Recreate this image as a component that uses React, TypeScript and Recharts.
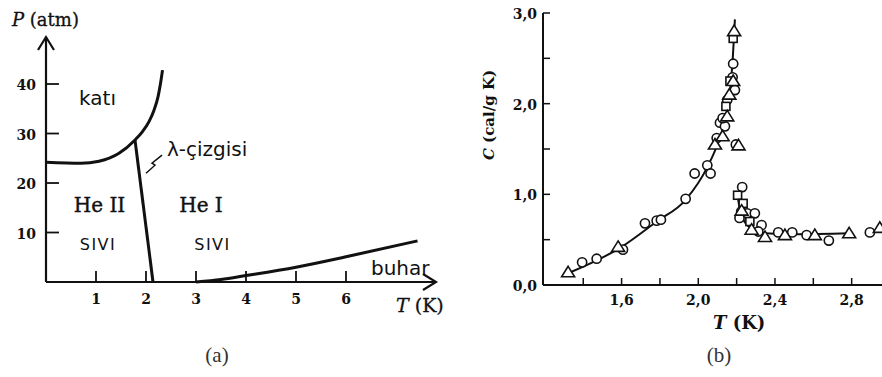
import React from 'react';
import { ComposedChart, Line, Scatter, XAxis, YAxis, ReferenceLine, ReferenceDot } from 'recharts';

// (a) helium-4 phase diagram, T in K, P in atm
const meltCurve = [
  { t: 0, p: 24.2 }, { t: 0.7, p: 24.0 }, { t: 1.06, p: 24.4 }, { t: 1.46, p: 26.0 },
  { t: 1.78, p: 28.7 }, { t: 1.93, p: 30.4 }, { t: 2.06, p: 32.4 }, { t: 2.16, p: 34.7 },
  { t: 2.24, p: 37.4 }, { t: 2.29, p: 40.1 }, { t: 2.33, p: 42.8 },
];
const lambdaLine = [{ t: 1.78, p: 28.7 }, { t: 2.14, p: 0 }];
const vaporCurve = [
  { t: 3.0, p: 0 }, { t: 3.5, p: 0.5 }, { t: 4.0, p: 1.3 }, { t: 5.0, p: 3.0 },
  { t: 6.0, p: 5.1 }, { t: 7.43, p: 8.3 },
];
const phaseTicksT = [1, 2, 3, 4, 5, 6];
const phaseTicksP = [10, 20, 30, 40];
const regionLabels = [
  { t: 1.03, p: 35.8, text: 'katı', font: 'sans', anchor: 'middle' },
  { t: 1.07, p: 14.2, text: 'He II', font: 'serif', anchor: 'middle' },
  { t: 1.04, p: 6.5, text: 'SIVI', font: 'small', anchor: 'middle' },
  { t: 3.1, p: 14.2, text: 'He I', font: 'serif', anchor: 'middle' },
  { t: 3.33, p: 6.5, text: 'SIVI', font: 'small', anchor: 'middle' },
  { t: 2.42, p: 25.5, text: 'λ-çizgisi', font: 'sans', anchor: 'start' },
  { t: 6.5, p: 1.4, text: 'buhar', font: 'sans', anchor: 'start' },
];

// (b) specific heat of liquid helium near the lambda point
const fitBelow = [
  { t: 1.321, c: 0.13 }, { t: 1.6, c: 0.42 }, { t: 1.783, c: 0.7 }, { t: 1.934, c: 0.94 },
  { t: 2.047, c: 1.3 }, { t: 2.108, c: 1.6 }, { t: 2.151, c: 1.93 }, { t: 2.177, c: 2.41 },
  { t: 2.191, c: 2.93 },
];
const fitAbove = [
  { t: 2.205, c: 0.99 }, { t: 2.22, c: 0.8 }, { t: 2.255, c: 0.66 }, { t: 2.3, c: 0.6 },
  { t: 2.35, c: 0.57 }, { t: 2.5, c: 0.56 }, { t: 2.79, c: 0.57 },
];
const circlePts = [
  { t: 1.394, c: 0.25 }, { t: 1.47, c: 0.29 }, { t: 1.607, c: 0.39 }, { t: 1.722, c: 0.68 },
  { t: 1.783, c: 0.71 }, { t: 1.805, c: 0.72 }, { t: 1.934, c: 0.95 }, { t: 1.981, c: 1.23 },
  { t: 2.047, c: 1.32 }, { t: 2.064, c: 1.23 }, { t: 2.096, c: 1.62 }, { t: 2.113, c: 1.79 },
  { t: 2.139, c: 1.75 }, { t: 2.127, c: 1.84 }, { t: 2.151, c: 2.04 }, { t: 2.191, c: 2.15 },
  { t: 2.179, c: 2.29 }, { t: 2.182, c: 2.44 }, { t: 2.196, c: 1.55 }, { t: 2.229, c: 1.08 },
  { t: 2.224, c: 0.81 }, { t: 2.215, c: 0.74 }, { t: 2.255, c: 0.79 }, { t: 2.295, c: 0.79 },
  { t: 2.33, c: 0.66 }, { t: 2.313, c: 0.59 }, { t: 2.417, c: 0.58 }, { t: 2.49, c: 0.58 },
  { t: 2.565, c: 0.55 }, { t: 2.681, c: 0.49 }, { t: 2.895, c: 0.58 },
];
const squarePts = [
  { t: 2.144, c: 1.97 }, { t: 2.165, c: 2.25 }, { t: 2.182, c: 2.72 }, { t: 2.205, c: 0.99 },
  { t: 2.234, c: 0.9 }, { t: 2.269, c: 0.7 },
];
const trianglePts = [
  { t: 1.321, c: 0.14 }, { t: 1.582, c: 0.42 }, { t: 2.087, c: 1.55 }, { t: 2.127, c: 1.64 },
  { t: 2.151, c: 1.86 }, { t: 2.162, c: 2.1 }, { t: 2.182, c: 2.25 }, { t: 2.187, c: 2.8 },
  { t: 2.21, c: 1.54 }, { t: 2.226, c: 0.82 }, { t: 2.278, c: 0.61 }, { t: 2.348, c: 0.53 },
  { t: 2.452, c: 0.55 }, { t: 2.608, c: 0.55 }, { t: 2.787, c: 0.57 }, { t: 2.947, c: 0.63 },
];
const heatTicksT = [1.4, 1.6, 1.8, 2.0, 2.2, 2.4, 2.6, 2.8];
const heatLabelsT = [1.6, 2.0, 2.4, 2.8];
const heatTicksC = [0, 0.5, 1, 1.5, 2, 2.5, 3];
const heatLabelsC = [0, 1, 2, 3];

const ink = '#111';
const serif = '"DejaVu Serif", serif';
const sans = '"DejaVu Sans", sans-serif';
const comma = (v: number, d: number) => v.toFixed(d).replace('.', ',');

function ArrowAxis(props: any) {
  const { x1, y1, x2, y2 } = props;
  const len = Math.hypot(x2 - x1, y2 - y1) || 1;
  const dx = (x2 - x1) / len;
  const dy = (y2 - y1) / len;
  const bx = x2 - dx * 13;
  const by = y2 - dy * 13;
  return (
    <g stroke={ink} strokeWidth={2.2} fill="none">
      <line x1={x1} y1={y1} x2={x2} y2={y2} />
      <polyline points={`${bx - dy * 8},${by + dx * 8} ${x2},${y2} ${bx + dy * 8},${by - dx * 8}`} />
    </g>
  );
}

function PhaseTickX({ x, y, payload }: any) {
  return (
    <g>
      <line x1={x} y1={y} x2={x} y2={y - 11} stroke={ink} strokeWidth={1.8} />
      <text x={x} y={y + 22} textAnchor="middle" fontFamily={serif} fontWeight="bold" fontSize={14} fill={ink}>
        {payload.value}
      </text>
    </g>
  );
}

function PhaseTickY({ x, y, payload }: any) {
  return (
    <g>
      <line x1={x} y1={y} x2={x + 13} y2={y} stroke={ink} strokeWidth={1.8} />
      <text x={x - 10} y={y + 6} textAnchor="end" fontFamily={serif} fontWeight="bold" fontSize={14} fill={ink}>
        {payload.value}
      </text>
    </g>
  );
}

function HeatTickX({ x, y, payload }: any) {
  const v = payload.value;
  return (
    <g>
      <line x1={x} y1={y} x2={x} y2={y - 7} stroke={ink} strokeWidth={1.5} />
      {heatLabelsT.some((l) => Math.abs(l - v) < 1e-6) && (
        <text x={x} y={y + 20} textAnchor="middle" fontFamily={serif} fontWeight="bold" fontSize={14} fill={ink}>
          {comma(v, 1)}
        </text>
      )}
    </g>
  );
}

function HeatTickY({ x, y, payload }: any) {
  const v = payload.value;
  return (
    <g>
      <line x1={x} y1={y} x2={x + 7} y2={y} stroke={ink} strokeWidth={1.5} />
      {heatLabelsC.includes(v) && (
        <text x={x - 6} y={y + 6} textAnchor="end" fontFamily={serif} fontWeight="bold" fontSize={14} fill={ink}>
          {comma(v, 1)}
        </text>
      )}
    </g>
  );
}

const circleShape = (p: any) => (
  <circle cx={p.cx} cy={p.cy} r={4.6} fill="#fff" stroke={ink} strokeWidth={1.6} />
);
const squareShape = (p: any) => (
  <rect x={p.cx - 4} y={p.cy - 4} width={8} height={8} fill="#fff" stroke={ink} strokeWidth={1.6} />
);
const triangleShape = (p: any) => (
  <path
    d={`M${p.cx},${p.cy - 6} L${p.cx + 6.5},${p.cy + 4.5} L${p.cx - 6.5},${p.cy + 4.5} Z`}
    fill="#fff"
    stroke={ink}
    strokeWidth={1.6}
  />
);

function RegionText({ cx, cy, text, font, anchor }: any) {
  const family = font === 'serif' ? serif : sans;
  const size = font === 'serif' ? 20 : font === 'small' ? 16 : 20;
  return (
    <text
      x={cx}
      y={cy}
      textAnchor={anchor}
      fontFamily={family}
      fontSize={size}
      letterSpacing={font === 'small' ? 1.5 : 0}
      stroke={font === 'serif' ? ink : 'none'}
      strokeWidth={font === 'serif' ? 0.4 : 0}
      fill={ink}
    >
      {text}
    </text>
  );
}

const squiggle = (p: any) => (
  <path
    d={`M${p.cx - 8},${p.cy + 9} L${p.cx + 1},${p.cy + 1} L${p.cx - 2},${p.cy - 1} L${p.cx + 8},${p.cy - 9}`}
    fill="none"
    stroke={ink}
    strokeWidth={1.5}
  />
);

export default function App() {
  return (
    <div
      style={{ position: 'absolute', left: 0, top: 0, width: 882, height: 377, overflow: 'hidden', background: '#fff' }}
    >
      <div style={{ position: 'absolute', left: 0, top: 0 }}>
        <ComposedChart width={440} height={377} margin={{ top: 37, right: 4, bottom: 65, left: 16 }}>
          <XAxis
            type="number"
            dataKey="t"
            domain={[0, 7.8]}
            ticks={phaseTicksT}
            height={30}
            axisLine={false}
            tickLine={false}
            tickSize={0}
            tickMargin={0}
            tick={PhaseTickX}
          />
          <YAxis
            type="number"
            dataKey="p"
            domain={[0, 49.5]}
            ticks={phaseTicksP}
            width={30}
            axisLine={false}
            tickLine={false}
            tickSize={0}
            tickMargin={0}
            tick={PhaseTickY}
          />
          <ReferenceLine segment={[{ x: 0, y: 0 }, { x: 0, y: 49.5 }]} ifOverflow="visible" shape={ArrowAxis} />
          <ReferenceLine segment={[{ x: 0, y: 0 }, { x: 7.8, y: 0 }]} ifOverflow="visible" shape={ArrowAxis} />
          <Line data={meltCurve} dataKey="p" type="monotone" stroke={ink} strokeWidth={3} dot={false} activeDot={false} isAnimationActive={false} />
          <Line data={lambdaLine} dataKey="p" type="linear" stroke={ink} strokeWidth={3} dot={false} activeDot={false} isAnimationActive={false} />
          <Line data={vaporCurve} dataKey="p" type="monotone" stroke={ink} strokeWidth={3} dot={false} activeDot={false} isAnimationActive={false} />
          {regionLabels.map((r, i) => (
            <ReferenceDot
              key={i}
              x={r.t}
              y={r.p}
              ifOverflow="visible"
              shape={(p: any) => <RegionText {...p} text={r.text} font={r.font} anchor={r.anchor} />}
            />
          ))}
          <ReferenceDot x={2.16} y={23.8} ifOverflow="visible" shape={squiggle} />
        </ComposedChart>
      </div>
      <div style={{ position: 'absolute', left: 440, top: 0 }}>
        <ComposedChart width={460} height={377} margin={{ top: 13, right: 10, bottom: 62, left: 63 }}>
          <XAxis
            xAxisId="b"
            type="number"
            dataKey="t"
            domain={[1.19, 3.0]}
            ticks={heatTicksT}
            height={30}
            axisLine={{ stroke: ink, strokeWidth: 2 }}
            tickLine={false}
            tickSize={0}
            tickMargin={0}
            tick={HeatTickX}
          />
          <XAxis
            xAxisId="top"
            orientation="top"
            type="number"
            domain={[1.19, 3.0]}
            height={0}
            tick={false}
            tickLine={false}
            axisLine={{ stroke: ink, strokeWidth: 2 }}
          />
          <YAxis
            type="number"
            dataKey="c"
            domain={[0, 3]}
            ticks={heatTicksC}
            width={40}
            axisLine={{ stroke: ink, strokeWidth: 2 }}
            tickLine={false}
            tickSize={0}
            tickMargin={0}
            tick={HeatTickY}
          />
          <Line xAxisId="b" data={fitBelow} dataKey="c" type="monotone" stroke={ink} strokeWidth={2} dot={false} activeDot={false} isAnimationActive={false} />
          <Line xAxisId="b" data={fitAbove} dataKey="c" type="monotone" stroke={ink} strokeWidth={2} dot={false} activeDot={false} isAnimationActive={false} />
          <Scatter xAxisId="b" data={circlePts} shape={circleShape} isAnimationActive={false} />
          <Scatter xAxisId="b" data={squarePts} shape={squareShape} isAnimationActive={false} />
          <Scatter xAxisId="b" data={trianglePts} shape={triangleShape} isAnimationActive={false} />
        </ComposedChart>
      </div>
      <svg width={882} height={377} style={{ position: 'absolute', left: 0, top: 0, pointerEvents: 'none' }}>
        <text x={12} y={26} fontFamily={serif} fontSize={18} stroke={ink} strokeWidth={0.3} fill={ink}>
          <tspan fontStyle="italic">P</tspan> (atm)
        </text>
        <text x={396} y={312} fontFamily={serif} fontSize={19} stroke={ink} strokeWidth={0.3} fill={ink}>
          <tspan fontStyle="italic">T</tspan> (K)
        </text>
        <text x={713} y={329} fontFamily={serif} fontWeight="bold" fontSize={18} fill={ink}>
          <tspan fontStyle="italic">T</tspan> (K)
        </text>
        <text transform="translate(494,115) rotate(-90)" textAnchor="middle" fontFamily={serif} fontWeight="bold" fontSize={15} fill={ink}>
          <tspan fontStyle="italic">C</tspan> (cal/g K)
        </text>
        <text x={217} y={362} textAnchor="middle" fontFamily='"Liberation Serif", serif' fontSize={21} fill="#333">
          (a)
        </text>
        <text x={719} y={362} textAnchor="middle" fontFamily='"Liberation Serif", serif' fontSize={21} fill="#333">
          (b)
        </text>
      </svg>
    </div>
  );
}
